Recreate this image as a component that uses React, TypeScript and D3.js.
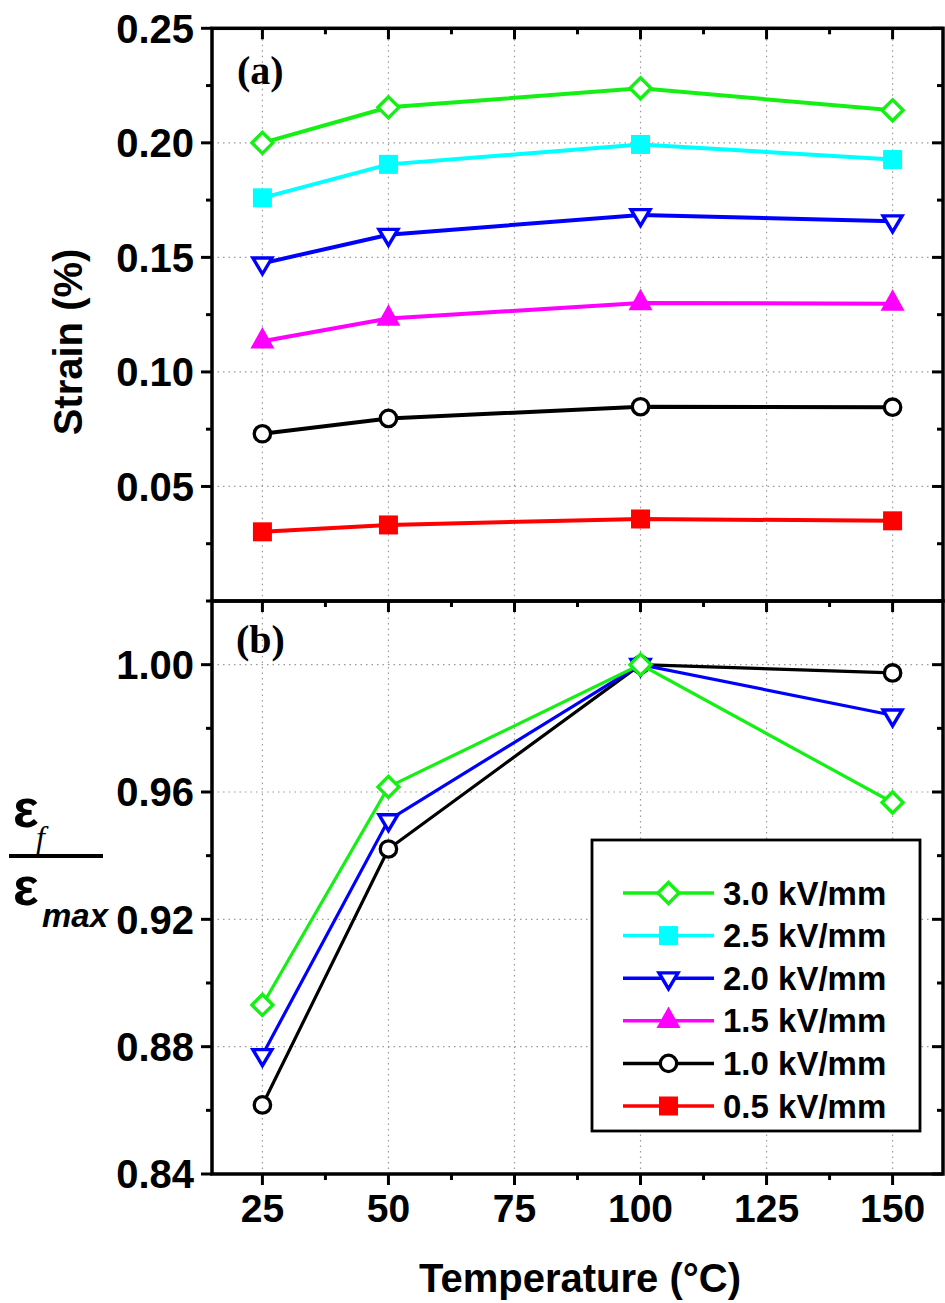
import React from "react";
import * as d3 from "d3";

const temps = [25, 50, 100, 150];
const fields = ["3.0 kV/mm", "2.5 kV/mm", "2.0 kV/mm", "1.5 kV/mm", "1.0 kV/mm", "0.5 kV/mm"];
const colors = ["#14f014", "#00ffff", "#0000ff", "#ff00ff", "#000000", "#ff0000"];
const markers = ["diamond", "square", "triDown", "triUp", "circle", "square"];

const strain30 = [0.2, 0.2155, 0.2238, 0.2142];
const strain25 = [0.176, 0.1906, 0.1993, 0.1927];
const strain20 = [0.1474, 0.1599, 0.1685, 0.1658];
const strain15 = [0.1134, 0.1233, 0.1301, 0.1298];
const strain10 = [0.073, 0.0797, 0.0848, 0.0846];
const strain05 = [0.0302, 0.0332, 0.0358, 0.035];
const strainSeries = [strain30, strain25, strain20, strain15, strain10, strain05];

const ratio30 = [0.8931, 0.9616, 1.0, 0.9567];
const ratio20 = [0.8774, 0.9512, 1.0, 0.9841];
const ratio10 = [0.8617, 0.9421, 1.0, 0.9974];
// drawn order: 1.0, 2.0, 3.0 (index into fields)
const ratioSeries = [
  { idx: 4, values: ratio10 },
  { idx: 2, values: ratio20 },
  { idx: 0, values: ratio30 },
];

const xTicks = [25, 50, 75, 100, 125, 150];
const xMinor = [37.5, 62.5, 87.5, 112.5, 137.5];
const yTopTicks = [0.05, 0.1, 0.15, 0.2, 0.25];
const yTopMinor = [0.025, 0.075, 0.125, 0.175, 0.225];
const yBotTicks = [0.84, 0.88, 0.92, 0.96, 1.0];
const yBotMinor = [0.86, 0.9, 0.94, 0.98, 1.02];

const W = 945;
const H = 1303;
const L = 212;
const R = 943;
const T = 28.3;
const M = 601;
const B = 1174;

const x = d3.scaleLinear().domain([15, 160]).range([L, R]);
const yTop = d3.scaleLinear().domain([0, 0.25]).range([M, T]);
const yBot = d3.scaleLinear().domain([0.84, 1.02]).range([B, M]);

const SANS = "'Liberation Sans', Arial, sans-serif";
const SERIF = "'Liberation Serif', 'Times New Roman', serif";

function Marker({ type, cx, cy, color }: { type: string; cx: number; cy: number; color: string }) {
  const sw = 3.4;
  if (type === "diamond") {
    const s = 10.5;
    return (
      <path
        d={`M${cx},${cy - s}L${cx + s},${cy}L${cx},${cy + s}L${cx - s},${cy}Z`}
        fill="#fff"
        stroke={color}
        strokeWidth={sw}
        strokeLinejoin="miter"
      />
    );
  }
  if (type === "square") {
    const s = 9.5;
    return <rect x={cx - s} y={cy - s} width={2 * s} height={2 * s} fill={color} />;
  }
  if (type === "triDown") {
    const w = 19;
    const h = 16;
    return (
      <path
        d={`M${cx - w / 2},${cy - h / 3}L${cx + w / 2},${cy - h / 3}L${cx},${cy + (2 * h) / 3}Z`}
        fill="#fff"
        stroke={color}
        strokeWidth={sw}
      />
    );
  }
  if (type === "triUp") {
    const w = 24;
    const h = 21.5;
    return (
      <path
        d={`M${cx},${cy - (2 * h) / 3}L${cx + w / 2},${cy + h / 3}L${cx - w / 2},${cy + h / 3}Z`}
        fill={color}
      />
    );
  }
  return <circle cx={cx} cy={cy} r={8.2} fill="#fff" stroke={color} strokeWidth={3.3} />;
}

export default function App() {
  const lineTop = d3
    .line<number>()
    .x((_, i) => x(temps[i]))
    .y((d) => yTop(d));
  const lineBot = d3
    .line<number>()
    .x((_, i) => x(temps[i]))
    .y((d) => yBot(d));

  const gridStyle = { stroke: "#9a9a9a", strokeWidth: 1.2, strokeDasharray: "1.5,4" };
  const tickW = 3;
  const maj = 11;
  const min = 6;

  const legX0 = 623;
  const legX1 = 714;
  const legY0 = 893;
  const legDy = 42.6;

  return (
    <div style={{ position: "absolute", left: 0, top: 0 }}>
      <svg width={W} height={H} style={{ display: "block", background: "#fff" }}>
        {/* grid top */}
        {xTicks.map((t) => (
          <line key={"gxt" + t} x1={x(t)} x2={x(t)} y1={T} y2={M} {...gridStyle} />
        ))}
        {yTopTicks.filter((t) => t < 0.25).map((t) => (
          <line key={"gyt" + t} x1={L} x2={R} y1={yTop(t)} y2={yTop(t)} {...gridStyle} />
        ))}
        {/* grid bottom */}
        {xTicks.map((t) => (
          <line key={"gxb" + t} x1={x(t)} x2={x(t)} y1={M} y2={B} {...gridStyle} />
        ))}
        {yBotTicks.filter((t) => t > 0.84).map((t) => (
          <line key={"gyb" + t} x1={L} x2={R} y1={yBot(t)} y2={yBot(t)} {...gridStyle} />
        ))}

        {/* ticks: x */}
        {[T, M].map((yy) =>
          xTicks.map((t) => (
            <line key={"xt" + yy + t} x1={x(t)} x2={x(t)} y1={yy} y2={yy + maj} stroke="#000" strokeWidth={tickW} />
          ))
        )}
        {[T, M].map((yy) =>
          xMinor.map((t) => (
            <line key={"xm" + yy + t} x1={x(t)} x2={x(t)} y1={yy} y2={yy + min} stroke="#000" strokeWidth={tickW} />
          ))
        )}
        {xTicks.map((t) => (
          <line key={"xb" + t} x1={x(t)} x2={x(t)} y1={B} y2={B + maj} stroke="#000" strokeWidth={tickW} />
        ))}
        {xMinor.map((t) => (
          <line key={"xbm" + t} x1={x(t)} x2={x(t)} y1={B} y2={B + min} stroke="#000" strokeWidth={tickW} />
        ))}

        {/* ticks: y top */}
        {yTopTicks.map((t) => (
          <g key={"yt" + t}>
            <line x1={L - maj} x2={L} y1={yTop(t)} y2={yTop(t)} stroke="#000" strokeWidth={tickW} />
            <line x1={R - maj} x2={R} y1={yTop(t)} y2={yTop(t)} stroke="#000" strokeWidth={tickW} />
            <text
              x={194}
              y={yTop(t)}
              dy="0.36em"
              textAnchor="end"
              fontFamily={SANS}
              fontWeight="bold"
              fontSize={40}
            >
              {t.toFixed(2)}
            </text>
          </g>
        ))}
        {yTopMinor.map((t) => (
          <g key={"ytm" + t}>
            <line x1={L - min} x2={L} y1={yTop(t)} y2={yTop(t)} stroke="#000" strokeWidth={tickW} />
            <line x1={R - min} x2={R} y1={yTop(t)} y2={yTop(t)} stroke="#000" strokeWidth={tickW} />
          </g>
        ))}

        {/* ticks: y bottom */}
        {yBotTicks.map((t) => (
          <g key={"yb" + t}>
            <line x1={L - maj} x2={L} y1={yBot(t)} y2={yBot(t)} stroke="#000" strokeWidth={tickW} />
            <line x1={R - maj} x2={R} y1={yBot(t)} y2={yBot(t)} stroke="#000" strokeWidth={tickW} />
            <text
              x={194}
              y={yBot(t)}
              dy="0.36em"
              textAnchor="end"
              fontFamily={SANS}
              fontWeight="bold"
              fontSize={40}
            >
              {t.toFixed(2)}
            </text>
          </g>
        ))}
        {yBotMinor.map((t) => (
          <g key={"ybm" + t}>
            <line x1={L - min} x2={L} y1={yBot(t)} y2={yBot(t)} stroke="#000" strokeWidth={tickW} />
            <line x1={R - min} x2={R} y1={yBot(t)} y2={yBot(t)} stroke="#000" strokeWidth={tickW} />
          </g>
        ))}

        {/* x tick labels */}
        {xTicks.map((t) => (
          <text
            key={"xl" + t}
            x={x(t)}
            y={1222}
            textAnchor="middle"
            fontFamily={SANS}
            fontWeight="bold"
            fontSize={39}
          >
            {t}
          </text>
        ))}

        {/* series top */}
        {strainSeries.map((vals, si) => (
          <g key={"st" + si}>
            <path d={lineTop(vals) || ""} fill="none" stroke={colors[si]} strokeWidth={4} />
            {vals.map((v, i) => (
              <Marker key={i} type={markers[si]} cx={x(temps[i])} cy={yTop(v)} color={colors[si]} />
            ))}
          </g>
        ))}

        {/* series bottom */}
        {ratioSeries.map((s) => (
          <g key={"sb" + s.idx}>
            <path d={lineBot(s.values) || ""} fill="none" stroke={colors[s.idx]} strokeWidth={3.2} />
            {s.values.map((v, i) => (
              <Marker key={i} type={markers[s.idx]} cx={x(temps[i])} cy={yBot(v)} color={colors[s.idx]} />
            ))}
          </g>
        ))}

        {/* frames */}
        <rect x={L} y={T} width={R - L} height={M - T} fill="none" stroke="#000" strokeWidth={3.5} />
        <rect x={L} y={M} width={R - L} height={B - M} fill="none" stroke="#000" strokeWidth={3.5} />

        {/* panel labels */}
        <text x={237} y={84} fontFamily={SERIF} fontWeight="bold" fontSize={40}>
          (a)
        </text>
        <text x={236} y={653} fontFamily={SERIF} fontWeight="bold" fontSize={40}>
          (b)
        </text>

        {/* legend */}
        <rect x={592} y={840} width={328} height={291} fill="#fff" stroke="#000" strokeWidth={2.8} />
        {fields.map((f, i) => {
          const yy = legY0 + i * legDy;
          return (
            <g key={"lg" + i}>
              <line x1={legX0} x2={legX1} y1={yy} y2={yy} stroke={colors[i]} strokeWidth={3.5} />
              <Marker type={markers[i]} cx={(legX0 + legX1) / 2} cy={yy} color={colors[i]} />
              <text x={723} y={yy + 11.5} fontFamily={SANS} fontWeight="bold" fontSize={33}>
                {f}
              </text>
            </g>
          );
        })}

        {/* axis titles */}
        <text
          transform={`translate(82,342) rotate(-90)`}
          textAnchor="middle"
          fontFamily={SANS}
          fontWeight="bold"
          fontSize={40}
        >
          Strain (%)
        </text>
        <text x={580} y={1292} textAnchor="middle" fontFamily={SANS} fontWeight="bold" fontSize={40}>
          Temperature (°C)
        </text>

        {/* fraction label */}
        <text x={13} y={827} fontFamily={SANS} fontWeight="bold" fontSize={54}>
          ε
        </text>
        <text x={36} y={848} fontFamily={SERIF} fontStyle="italic" fontSize={32}>
          f
        </text>
        <line x1={9} x2={103} y1={856} y2={856} stroke="#000" strokeWidth={4} />
        <text x={13} y={905} fontFamily={SANS} fontWeight="bold" fontSize={54}>
          ε
        </text>
        <text x={42} y={927} fontFamily={SANS} fontStyle="italic" fontWeight="bold" fontSize={33}>
          max
        </text>
      </svg>
    </div>
  );
}
